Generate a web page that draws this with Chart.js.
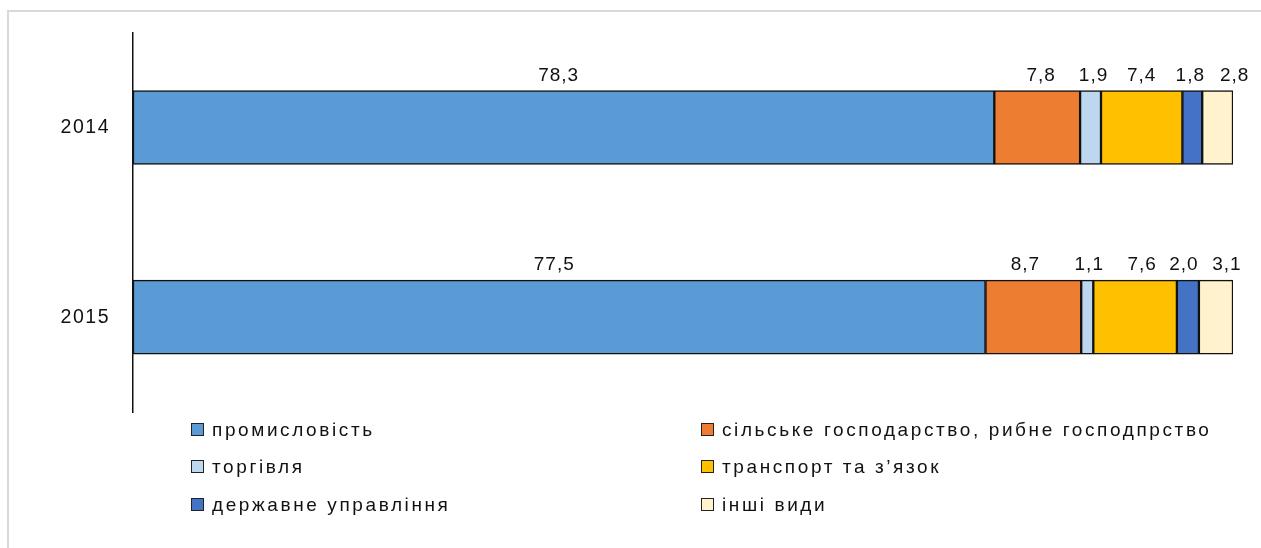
<!DOCTYPE html>
<html>
<head>
<meta charset="utf-8">
<script src="https://cdn.jsdelivr.net/npm/chart.js@4"></script>
<style>
  body { margin: 0; background: #fff; font-family: "Liberation Sans", Arial, sans-serif; }
  #wrap { position: relative; width: 1261px; height: 548px; overflow: hidden; }
  #frame { position: absolute; left: 7px; top: 10px; width: 1300px; height: 600px; border: 2px solid #d9d9d9; box-sizing: border-box; }
  canvas { position: absolute; left: 0; top: -2px; }
  .leg { position: absolute; font-size: 19px; color: #111; letter-spacing: 2.6px; white-space: nowrap; line-height: 22px; }
  .leg i { display: inline-block; width: 11px; height: 11px; border: 1.5px solid #222; margin-right: 8px; vertical-align: 0px; }
</style>
</head>
<body>
<div id="wrap">
  <div id="frame"></div>
  <canvas id="c" width="1261" height="550"></canvas>
  <div id="legend"></div>
</div>
<script>
const years = ["2014", "2015"];
const sectors = [
  "промисловість",
  "сільське господарство,  рибне господпрство",
  "торгівля",
  "транспорт та з’язок",
  "державне управління",
  "інші види"
];
const industry = [78.3, 77.5];
const agriculture = [7.8, 8.7];
const trade = [1.9, 1.1];
const transport = [7.4, 7.6];
const government = [1.8, 2.0];
const other = [2.8, 3.1];
const colors = ["#5B9BD5", "#ED7D31", "#BDD7EE", "#FFC000", "#4472C4", "#FFF2CC"];

const seriesValues = [industry, agriculture, trade, transport, government, other];

// labels were nudged by hand in the original so the small ones don't collide
const labelNudge = [[-5, -5], [4, -8], [3, 2], [0, 7], [-2, -4], [17, 11]];

const valueLabels = {
  id: "valueLabels",
  beforeDraw(chart) {
    chart.ctx.letterSpacing = "1.5px";
  },
  afterDatasetsDraw(chart) {
    const ctx = chart.ctx;
    ctx.save();
    ctx.font = "19px 'Liberation Sans', Arial, sans-serif";
    ctx.letterSpacing = "1px";
    ctx.fillStyle = "#111";
    ctx.textAlign = "center";
    ctx.textBaseline = "alphabetic";
    chart.data.datasets.forEach((ds, i) => {
      chart.getDatasetMeta(i).data.forEach((bar, j) => {
        const p = bar.getProps(["x", "base", "y", "height"], true);
        const cx = (p.x + p.base) / 2 + labelNudge[i][j];
        ctx.fillText(ds.data[j].toFixed(1).replace(".", ","), cx, p.y - p.height / 2 - 10);
      });
    });
    ctx.restore();
  }
};

new Chart(document.getElementById("c"), {
  type: "bar",
  data: {
    labels: years,
    datasets: sectors.map((name, i) => ({
      label: name,
      data: seriesValues[i],
      backgroundColor: colors[i],
      borderColor: "#111",
      borderWidth: 1.5,
      borderSkipped: false,
      barThickness: 74
    }))
  },
  options: {
    indexAxis: "y",
    responsive: false,
    animation: false,
    layout: { padding: { left: 0, right: 28, top: 24, bottom: 136 } },
    plugins: { legend: { display: false }, tooltip: { enabled: false } },
    scales: {
      x: { stacked: true, min: 0, max: 100, display: false },
      y: {
        stacked: true,
        grid: { display: false, drawTicks: false },
        border: { display: true, color: "#111", width: 1.5 },
        ticks: { padding: 23, color: "#111", font: { size: 19.5, family: "'Liberation Sans', Arial, sans-serif" } },
        afterFit(scale) { scale.width = 133; }
      }
    }
  },
  plugins: [valueLabels]
});

// legend: two columns, three rows
const legendEl = document.getElementById("legend");
const colX = [191, 701];
const rowY = [419, 456, 494];
sectors.forEach((name, n) => {
  const d = document.createElement("div");
  d.className = "leg";
  d.style.left = colX[n % 2] + "px";
  d.style.top = rowY[Math.floor(n / 2)] + "px";
  d.innerHTML = '<i style="background:' + colors[n] + '"></i>' + name;
  legendEl.appendChild(d);
});
</script>
</body>
</html>
